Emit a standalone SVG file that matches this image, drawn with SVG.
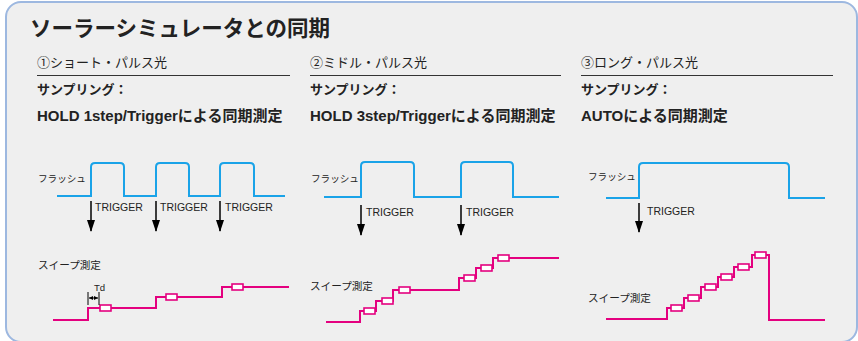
<svg xmlns="http://www.w3.org/2000/svg" width="858" height="341" viewBox="0 0 858 341">
<style>
text{font-family:"Liberation Sans","Noto Sans CJK JP",sans-serif;fill:#222}
.title{font-size:21.5px;font-weight:bold}
.hdr{font-size:13px}
.samp{font-size:13px;font-weight:bold}
.sub{font-size:15px;font-weight:bold}
.lbl{font-size:9.6px}
.sw{font-size:10.6px}
.trig{font-size:10.5px}
.rule{stroke:#333;stroke-width:1}
.flash{fill:none;stroke:#1aa3e8;stroke-width:2}
.sweep{fill:none;stroke:#e4007f;stroke-width:2}
.box{fill:#fff;stroke:#e4007f;stroke-width:1.6}
.arr{stroke:#000;stroke-width:1.5}
.td{stroke:#000;stroke-width:1}
</style>
<defs>
<marker id="ah" markerUnits="userSpaceOnUse" markerWidth="12" markerHeight="8" refX="11" refY="4" orient="auto" viewBox="0 0 12 8">
<path d="M0,0 L12,4 L0,8 Z" fill="#000"/>
</marker>
<marker id="sh" markerUnits="userSpaceOnUse" markerWidth="4" markerHeight="4" refX="4" refY="2" orient="auto-start-reverse" viewBox="0 0 4 4">
<path d="M0,0 L4,2 L0,4 Z" fill="#000"/>
</marker>
</defs>
<rect id="frame" x="6" y="2" width="851" height="340" rx="15" fill="#efefef" stroke="#9db8e0" stroke-width="2"/>
<text class="title" x="30" y="36">ソーラーシミュレータとの同期</text>

<g id="col1">
<text class="hdr" x="37" y="67">①ショート・パルス光</text>
<line class="rule" x1="37" y1="75.5" x2="290" y2="75.5"/>
<text class="samp" x="37" y="94">サンプリング：</text>
<text class="sub" x="37" y="121">HOLD 1step/Triggerによる同期測定</text>
<text class="lbl" x="38" y="182">フラッシュ</text>
<path class="flash" d="M57,196 H91 V167 Q91,163 95,163 H120 Q124,163 124,167 V196 H156 V167 Q156,163 160,163 H185 Q189,163 189,167 V196 H220 V167 Q220,163 224,163 H250 Q254,163 254,167 V196 H285"/>
<text class="trig" x="95" y="211">TRIGGER</text>
<text class="trig" x="160" y="211">TRIGGER</text>
<text class="trig" x="225" y="211">TRIGGER</text>
<text class="sw" x="38" y="269">スイープ測定</text>
<path class="sweep" d="M53,320 H88 V308 H156 V297 H222 V287 H289"/>
<rect class="box" x="100" y="305" width="11" height="6"/>
<rect class="box" x="166" y="294" width="11" height="6"/>
<rect class="box" x="232" y="284" width="11" height="6"/>
<text class="lbl" x="94" y="291" font-size="10">Td</text>
<line class="td" x1="88" y1="292" x2="88" y2="305"/>
<line class="td" x1="99" y1="292" x2="99" y2="305"/>
<line class="td" x1="89" y1="298" x2="98" y2="298" marker-start="url(#sh)" marker-end="url(#sh)"/>
</g>

<g id="col2">
<text class="hdr" x="310" y="67">②ミドル・パルス光</text>
<line class="rule" x1="310" y1="75.5" x2="561" y2="75.5"/>
<text class="samp" x="310" y="94">サンプリング：</text>
<text class="sub" x="310" y="121">HOLD 3step/Triggerによる同期測定</text>
<text class="lbl" x="311" y="182">フラッシュ</text>
<path class="flash" d="M324,197 H361 V166 Q361,162 365,162 H410 Q414,162 414,166 V197 H461 V166 Q461,162 465,162 H509 Q513,162 513,166 V197 H559"/>
<text class="trig" x="366" y="216">TRIGGER</text>
<text class="trig" x="466" y="216">TRIGGER</text>
<text class="sw" x="310" y="290">スイープ測定</text>
<path class="sweep" d="M326,322 H360 V311 H376 V301 H393 V290 H459 V278 H476 V268 H493 V258 H559"/>
<rect class="box" x="364" y="308" width="11" height="6"/>
<rect class="box" x="382" y="298" width="11" height="6"/>
<rect class="box" x="399" y="287" width="11" height="6"/>
<rect class="box" x="464" y="275" width="11" height="6"/>
<rect class="box" x="481" y="265" width="11" height="6"/>
<rect class="box" x="498" y="255" width="11" height="6"/>
</g>

<g id="col3">
<text class="hdr" x="581" y="67">③ロング・パルス光</text>
<line class="rule" x1="581" y1="75.5" x2="833" y2="75.5"/>
<text class="samp" x="581" y="94">サンプリング：</text>
<text class="sub" x="581" y="121">AUTOによる同期測定</text>
<text class="lbl" x="588" y="180">フラッシュ</text>
<path class="flash" d="M606,198 H639 V167 Q639,163 643,163 H785 Q789,163 789,167 V198 H825"/>
<text class="trig" x="647" y="215">TRIGGER</text>
<text class="sw" x="588" y="302">スイープ測定</text>
<path class="sweep" d="M606,319 H667 V308 H684 V298 H701 V287 H718 V277 H734 V267 H752 V255 H769 V320 H825"/>
<rect class="box" x="671" y="305" width="11" height="6"/>
<rect class="box" x="688" y="295" width="11" height="6"/>
<rect class="box" x="705" y="284" width="11" height="6"/>
<rect class="box" x="721" y="274" width="11" height="6"/>
<rect class="box" x="738" y="264" width="11" height="6"/>
<rect class="box" x="755" y="252" width="11" height="6"/>
</g>

<g id="connectors">
<line class="arr" x1="91" y1="201" x2="91" y2="231" marker-end="url(#ah)"/>
<line class="arr" x1="156" y1="201" x2="156" y2="231" marker-end="url(#ah)"/>
<line class="arr" x1="220" y1="201" x2="220" y2="231" marker-end="url(#ah)"/>
<line class="arr" x1="361" y1="205" x2="361" y2="235" marker-end="url(#ah)"/>
<line class="arr" x1="461" y1="205" x2="461" y2="235" marker-end="url(#ah)"/>
<line class="arr" x1="639" y1="203" x2="639" y2="232" marker-end="url(#ah)"/>
</g>
</svg>
